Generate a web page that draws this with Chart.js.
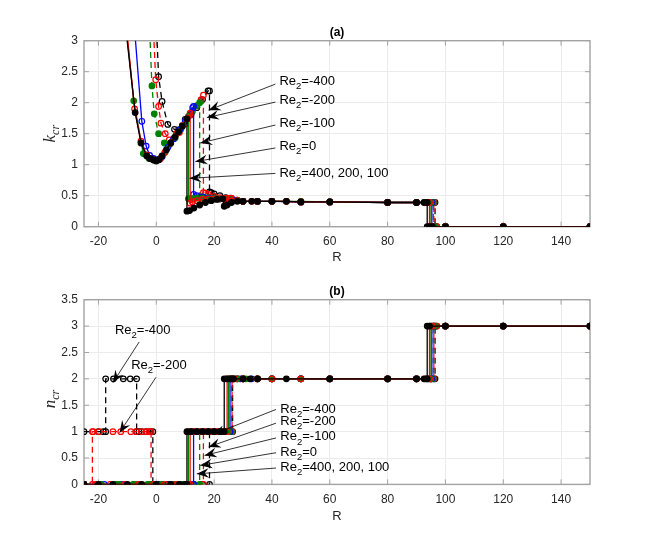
<!DOCTYPE html>
<html>
<head>
<meta charset="utf-8">
<script src="https://cdn.jsdelivr.net/npm/chart.js@4.4.0/dist/chart.umd.min.js"></script>
<style>
  html, body { margin: 0; padding: 0; background: #fff; }
  body { width: 652px; height: 545px; position: relative; overflow: hidden; }
  canvas { position: absolute; left: 0; }
  #chartA { top: 0; }
  #chartB { top: 258.6px; }
</style>
</head>
<body>
<canvas id="chartA" width="652" height="272"></canvas>
<canvas id="chartB" width="652" height="272"></canvas>
<script>
// ---- tick values ----
const xTicks = [-20, 0, 20, 40, 60, 80, 100, 120, 140];
const kTicks = [0, 0.5, 1, 1.5, 2, 2.5, 3];
const nTicks = [0, 0.5, 1, 1.5, 2, 2.5, 3, 3.5];

// ---- (a) k_cr vs R, one pair per Re2 ----
const rK400 = [-10.8, -7.3, -5.3, -3.3, -2.2, -1, 0, 1, 2, 3.5, 5, 6.5, 7.7, 9, 10.6, 10.6, 11.5, 13, 15, 17, 19, 21, 23, 23.5, 24.5, 26, 28, 30, 33, 35, 40, 45, 50, 60, 80, 90, 92.6, 93.7, 93.7, 94.5, 95.5, 100, 120, 150];
const k400  = [3.3, 1.84, 1.35, 1.14, 1.1, 1.08, 1.06, 1.08, 1.14, 1.24, 1.35, 1.45, 1.53, 1.62, 1.74, 0.25, 0.26, 0.3, 0.35, 0.39, 0.42, 0.44, 0.45, 0.33, 0.35, 0.39, 0.41, 0.41, 0.41, 0.41, 0.41, 0.41, 0.4, 0.4, 0.39, 0.39, 0.39, 0.39, 0, 0, 0, 0, 0, 0];

const rK200 = [-10.5, -7.5, -5.3, -3.4, -1.5, 0, 1.5, 3, 5, 7, 9, 10.5, 11.7, 11.7, 12.5, 14, 16, 18, 20, 22, 24, 24.5, 25.6, 28, 30, 33, 35, 40, 45, 50, 60, 80, 90, 93, 94.5, 94.5, 95.5, 100, 120, 150];
const k200  = [3.3, 1.9, 1.38, 1.16, 1.09, 1.07, 1.1, 1.2, 1.35, 1.5, 1.63, 1.74, 1.83, 0.38, 0.4, 0.42, 0.44, 0.45, 0.45, 0.45, 0.45, 0.42, 0.46, 0.42, 0.41, 0.41, 0.41, 0.41, 0.41, 0.4, 0.4, 0.39, 0.39, 0.39, 0.39, 0, 0, 0, 0, 0];

const rK100 = [-10.6, -7.8, -4.5, -2.5, -0.8, 1, 3, 5, 7, 9, 11.1, 11.1, 12, 14, 16, 18, 20, 22, 24, 25, 26, 28, 30, 35, 40, 45, 50, 60, 80, 90, 93, 95, 95, 96, 100, 120, 150];
const k100  = [3.3, 2.03, 1.18, 1.1, 1.07, 1.09, 1.2, 1.35, 1.5, 1.63, 1.78, 0.45, 0.46, 0.46, 0.46, 0.45, 0.45, 0.45, 0.44, 0.4, 0.43, 0.42, 0.41, 0.41, 0.41, 0.41, 0.41, 0.4, 0.39, 0.39, 0.39, 0.39, 0, 0, 0, 0, 0];

const rK0 = [-7.7, -5, -3.5, -2.3, -1, 0.5, 2, 4, 6, 8, 10, 12.6, 12.9, 12.9, 14, 16, 18, 20, 22, 24, 25.5, 27, 30, 35, 40, 50, 60, 80, 90, 95.3, 95.3, 96, 100, 120, 150];
const k0  = [3.3, 1.7, 1.3, 1.15, 1.1, 1.08, 1.13, 1.28, 1.42, 1.56, 1.7, 1.92, 1.94, 0.52, 0.5, 0.48, 0.46, 0.45, 0.45, 0.44, 0.41, 0.43, 0.41, 0.41, 0.41, 0.4, 0.4, 0.39, 0.39, 0.39, 0, 0, 0, 0, 0];

const rKm100 = [-2.4, -1.5, -0.7, 0.8, 2.8, 4.5, 6.5, 8.5, 10.5, 12.5, 14, 15, 15, 16, 18, 20, 22, 24, 26, 28, 30, 35, 40, 50, 60, 80, 90, 95.8, 95.8, 96.5, 100, 120, 150];
const km100  = [3.3, 2.27, 1.82, 1.5, 1.35, 1.32, 1.43, 1.57, 1.72, 1.86, 1.95, 2.0, 0.48, 0.48, 0.47, 0.46, 0.45, 0.45, 0.44, 0.42, 0.41, 0.41, 0.41, 0.4, 0.4, 0.39, 0.39, 0.39, 0, 0, 0, 0, 0];

const rKm200 = [-1.1, -0.2, 0.8, 1.6, 3.1, 4.5, 6, 8, 10, 12, 14, 15.5, 16.3, 16.3, 17, 18, 20, 22, 24, 26, 28, 30, 35, 40, 50, 60, 80, 90, 96, 96, 97, 100, 120, 150];
const km200  = [3.3, 2.37, 1.94, 1.67, 1.5, 1.4, 1.42, 1.52, 1.66, 1.8, 1.95, 2.05, 2.12, 0.55, 0.54, 0.52, 0.49, 0.47, 0.46, 0.46, 0.43, 0.41, 0.41, 0.41, 0.4, 0.4, 0.39, 0.39, 0.39, 0, 0, 0, 0, 0];

const rKm400 = [0, 0.8, 2, 4, 6.3, 7.7, 10, 12, 14, 16, 17.9, 18.4, 18.4, 19, 20, 22, 24, 26, 28, 30, 35, 40, 50, 60, 80, 90, 96.4, 96.4, 97, 100, 120, 150];
const km400  = [3.3, 2.42, 2.02, 1.65, 1.57, 1.56, 1.73, 1.82, 1.92, 2.05, 2.19, 2.19, 0.56, 0.55, 0.53, 0.5, 0.47, 0.45, 0.43, 0.41, 0.41, 0.41, 0.4, 0.4, 0.39, 0.39, 0.39, 0, 0, 0, 0, 0];

// ---- (b) n_cr vs R ----
const rN400 = [-25, -20, -15, -10, -5, 0, 5, 8, 10, 10.6, 10.6, 12, 14, 16, 18, 20, 22, 23.5, 23.5, 24.4, 25.6, 26.7, 30, 32.5, 35, 45, 60, 80, 90, 92.6, 93.7, 93.7, 94.5, 100, 120, 150];
const n400  = [0, 0, 0, 0, 0, 0, 0, 0, 0, 0, 1, 1, 1, 1, 1, 1, 1, 1, 2, 2, 2, 2, 2, 2, 2, 2, 2, 2, 2, 2, 2, 3, 3, 3, 3, 3];

const rN200 = [-25, -21, -16, -11, -6, -1, 3, 7, 10, 11.7, 11.7, 13, 15, 17, 19, 21, 23, 24.5, 24.5, 25.5, 27, 30, 35, 40, 50, 60, 80, 90, 93, 94.5, 94.5, 95.5, 100, 120, 150];
const n200  = [0, 0, 0, 0, 0, 0, 0, 0, 0, 0, 1, 1, 1, 1, 1, 1, 1, 1, 2, 2, 2, 2, 2, 2, 2, 2, 2, 2, 2, 2, 3, 3, 3, 3, 3];

const rN100 = [-25, -19, -13, -7, -2, 2, 6, 9, 11.1, 11.1, 12.5, 14.5, 16.5, 18.5, 20.5, 23, 25, 25, 26, 28, 31, 40, 50, 60, 80, 90, 93.5, 95, 95, 96, 100, 120, 150];
const n100  = [0, 0, 0, 0, 0, 0, 0, 0, 0, 1, 1, 1, 1, 1, 1, 1, 1, 2, 2, 2, 2, 2, 2, 2, 2, 2, 2, 2, 3, 3, 3, 3, 3];

const rN0 = [-25, -18, -12, -6, 0, 5, 9, 12.9, 12.9, 14, 16, 18, 20, 22, 24, 25.5, 25.5, 26.5, 29, 33, 40, 50, 60, 80, 90, 94, 95.3, 95.3, 96, 100, 120, 150];
const n0  = [0, 0, 0, 0, 0, 0, 0, 0, 1, 1, 1, 1, 1, 1, 1, 1, 2, 2, 2, 2, 2, 2, 2, 2, 2, 2, 2, 3, 3, 3, 3, 3];

const rNm100 = [-25, -20, -14, -8, -3, 2, 7, 11, 13, 15, 15, 16.5, 18, 20, 22, 24, 26, 26, 27, 30, 35, 40, 50, 60, 80, 90, 94.5, 95.8, 95.8, 96.5, 100, 120, 150];
const nm100  = [0, 0, 0, 0, 0, 0, 0, 0, 0, 0, 1, 1, 1, 1, 1, 1, 1, 2, 2, 2, 2, 2, 2, 2, 2, 2, 2, 2, 3, 3, 3, 3, 3];

const rNm200 = [-25, -22.1, -22.1, -21.8, -19.8, -15, -12.3, -8.8, -7, -5, -3.5, -2.4, -1.8, -1.8, 2, 6, 10, 13, 16.3, 16.3, 18, 20, 22, 24, 26.2, 26.2, 28, 30, 35, 40, 50, 60, 80, 90, 95, 96, 96, 97, 100, 120, 150];
const nm200  = [0, 0, 1, 1, 1, 1, 1, 1, 1, 1, 1, 1, 1, 0, 0, 0, 0, 0, 0, 1, 1, 1, 1, 1, 1, 2, 2, 2, 2, 2, 2, 2, 2, 2, 2, 2, 3, 3, 3, 3, 3];

const rNm400 = [-25, -20, -18.3, -17.5, -17.5, -14.8, -11.4, -9, -6.8, -6.8, -6, -5, -3.5, -2.2, -1.2, -1.2, 1, 4, 8, 12, 16, 18.4, 18.4, 20, 22, 24, 26.4, 26.4, 28, 30, 35, 40, 50, 60, 80, 90, 95, 96.4, 96.4, 97, 100, 120, 150];
const nm400  = [1, 1, 1, 1, 2, 2, 2, 2, 2, 1, 1, 1, 1, 1, 1, 0, 0, 0, 0, 0, 0, 0, 1, 1, 1, 1, 1, 2, 2, 2, 2, 2, 2, 2, 2, 2, 2, 2, 3, 3, 3, 3, 3];

// ---- annotations (data units): label suffix, text anchor, arrow start, arrow tip ----
const notesA = [
  { t: '=-400',          tx: 42.6, ty: 2.34, sx: 41.2, sy: 2.30, ax: 18.1, ay: 1.88 },
  { t: '=-200',          tx: 42.6, ty: 2.04, sx: 41.2, sy: 2.01, ax: 17.5, ay: 1.76 },
  { t: '=-100',          tx: 42.6, ty: 1.67, sx: 41.2, sy: 1.64, ax: 15.2, ay: 1.35 },
  { t: '=0',             tx: 42.6, ty: 1.29, sx: 41.2, sy: 1.27, ax: 13.5, ay: 1.05 },
  { t: '=400, 200, 100', tx: 42.6, ty: 0.86, sx: 41.2, sy: 0.86, ax: 11.5, ay: 0.78 }
];
const notesB = [
  { t: '=-400',          tx: -14.3, ty: 2.92, sx: -5.9, sy: 2.70, ax: -15.0, ay: 1.93 },
  { t: '=-200',          tx: -8.7,  ty: 2.26, sx: -0.1, sy: 2.03, ax: -12.7, ay: 0.98 },
  { t: '=-400',          tx: 42.9, ty: 1.43, sx: 41.4, sy: 1.42, ax: 19.7, ay: 0.95 },
  { t: '=-200',          tx: 42.9, ty: 1.19, sx: 41.4, sy: 1.16, ax: 18.1, ay: 0.71 },
  { t: '=-100',          tx: 42.9, ty: 0.90, sx: 41.4, sy: 0.88, ax: 16.7, ay: 0.55 },
  { t: '=0',             tx: 42.9, ty: 0.61, sx: 41.4, sy: 0.60, ax: 15.2, ay: 0.36 },
  { t: '=400, 200, 100', tx: 42.9, ty: 0.33, sx: 41.4, sy: 0.31, ax: 14.0, ay: 0.20 }
];

const FONT = '"Liberation Sans", Arial, Helvetica, sans-serif';
const SERIF = '"Liberation Serif", "Times New Roman", serif';
Chart.defaults.font.family = FONT;

function series(r, v, color, dashed, filled) {
  return {
    data: r.map((x, i) => ({ x: x, y: v[i] })),
    showLine: true,
    borderColor: color,
    borderWidth: 1.3,
    borderDash: dashed ? [6, 4] : [],
    pointRadius: 2.8,
    pointBorderWidth: 1.2,
    pointBorderColor: color,
    pointBackgroundColor: filled ? color : 'rgba(0,0,0,0)',
    tension: 0
  };
}

function arrow(ctx, sx, sy, tx, ty) {
  ctx.beginPath();
  ctx.moveTo(sx, sy);
  ctx.lineTo(tx, ty);
  ctx.lineWidth = 0.8;
  ctx.stroke();
  const a = Math.atan2(ty - sy, tx - sx), L = 12, W = 4.8;
  const ux = Math.cos(a), uy = Math.sin(a);
  ctx.beginPath();
  ctx.moveTo(tx, ty);
  ctx.lineTo(tx - L * ux - W * uy, ty - L * uy + W * ux);
  ctx.lineTo(tx - 0.65 * L * ux, ty - 0.65 * L * uy);
  ctx.lineTo(tx - L * ux + W * uy, ty - L * uy - W * ux);
  ctx.closePath();
  ctx.fill();
}

// base text with a lowered subscript, then the rest
function subText(ctx, x, y, base, sub, rest, font, subFont, drop) {
  ctx.font = font;
  ctx.fillText(base, x, y);
  x += ctx.measureText(base).width;
  ctx.font = subFont;
  ctx.fillText(sub, x, y + drop);
  x += ctx.measureText(sub).width;
  if (rest) { ctx.font = font; ctx.fillText(rest, x, y); }
}

const deco = {
  id: 'deco',
  beforeDatasetsDraw(chart) {
    const { ctx, chartArea: a, scales: { x, y } } = chart;
    ctx.save();
    ctx.strokeStyle = '#a3a3a3';
    ctx.lineWidth = 1.4;
    ctx.strokeRect(a.left, a.top, a.right - a.left, a.bottom - a.top);
    ctx.lineWidth = 1;
    ctx.beginPath();
    x.ticks.forEach(t => {
      const p = x.getPixelForValue(t.value);
      ctx.moveTo(p, a.bottom); ctx.lineTo(p, a.bottom - 5);
      ctx.moveTo(p, a.top); ctx.lineTo(p, a.top + 5);
    });
    y.ticks.forEach(t => {
      const p = y.getPixelForValue(t.value);
      ctx.moveTo(a.left, p); ctx.lineTo(a.left + 5, p);
      ctx.moveTo(a.right, p); ctx.lineTo(a.right - 5, p);
    });
    ctx.stroke();
    ctx.restore();
  },
  afterDraw(chart, args, o) {
    const { ctx, chartArea: a, scales: { x, y } } = chart;
    ctx.save();
    ctx.fillStyle = '#000';
    ctx.strokeStyle = '#000';
    // panel title
    ctx.font = 'bold 12px ' + FONT;
    ctx.textAlign = 'center';
    ctx.textBaseline = 'middle';
    ctx.fillText(o.title, (a.left + a.right) / 2, a.top - 8.5);
    // y label with subscript
    ctx.save();
    ctx.translate(50, (a.top + a.bottom) / 2 + o.yShift);
    ctx.rotate(-Math.PI / 2);
    ctx.textAlign = 'left';
    ctx.textBaseline = 'alphabetic';
    ctx.fillStyle = '#262626';
    ctx.font = 'italic 17px ' + SERIF;
    const w1 = ctx.measureText(o.yBase).width;
    ctx.font = 'italic 12px ' + SERIF;
    const w2 = ctx.measureText(o.ySub).width;
    subText(ctx, -(w1 + w2) / 2, 5, o.yBase, o.ySub, '', 'italic 17px ' + SERIF, 'italic 12px ' + SERIF, 3.5);
    ctx.restore();
    // annotations
    ctx.textAlign = 'left';
    ctx.textBaseline = 'middle';
    o.notes.forEach(n => {
      arrow(ctx, x.getPixelForValue(n.sx), y.getPixelForValue(n.sy), x.getPixelForValue(n.ax), y.getPixelForValue(n.ay));
      subText(ctx, x.getPixelForValue(n.tx), y.getPixelForValue(n.ty), 'Re', '2', n.t, '13px ' + FONT, '9.5px ' + FONT, 5);
    });
    ctx.restore();
  }
};

function panel(id, sets, yTicks, yMax, plotH, title, yBase, ySub, yShift, notes) {
  return new Chart(document.getElementById(id), {
    type: 'scatter',
    data: { datasets: sets },
    options: {
      responsive: false,
      animation: false,
      layout: { padding: { top: 40.7, right: 62, left: 0, bottom: 0 } },
      plugins: {
        legend: { display: false },
        tooltip: { enabled: false },
        deco: { title: title, yBase: yBase, ySub: ySub, yShift: yShift, notes: notes }
      },
      scales: {
        x: {
          type: 'linear', min: -25, max: 150,
          afterBuildTicks: s => { s.ticks = xTicks.map(v => ({ value: v })); },
          afterFit: s => { s.height = 272 - 40.7 - plotH; },
          grid: { color: '#ebebeb', drawTicks: false },
          border: { display: false },
          ticks: { padding: 8, color: '#262626', font: { size: 12 }, maxRotation: 0, callback: v => String(v) },
          title: { display: true, text: 'R', color: '#262626', font: { size: 13 }, padding: { top: 0, bottom: 6.8 } }
        },
        y: {
          type: 'linear', min: 0, max: yMax,
          afterBuildTicks: s => { s.ticks = yTicks.map(v => ({ value: v })); },
          afterFit: s => { s.width = 84; },
          grid: { color: '#ebebeb', drawTicks: false },
          border: { display: false },
          ticks: { padding: 6, color: '#262626', font: { size: 12 }, callback: v => String(v) }
        }
      }
    },
    plugins: [deco]
  });
}

panel('chartA', [
  series(rK400, k400, '#000000', false, true),
  series(rK200, k200, '#ff0000', false, false),
  series(rK100, k100, '#008000', false, true),
  series(rK0, k0, '#0000ff', false, false),
  series(rKm100, km100, '#008000', true, true),
  series(rKm200, km200, '#ff0000', true, false),
  series(rKm400, km400, '#000000', true, false)
], kTicks, 3, 186, '(a)', 'k', 'cr', 0, notesA);

panel('chartB', [
  series(rN400, n400, '#000000', false, true),
  series(rN200, n200, '#ff0000', false, false),
  series(rN100, n100, '#008000', false, true),
  series(rN0, n0, '#0000ff', false, false),
  series(rNm100, nm100, '#008000', true, true),
  series(rNm200, nm200, '#ff0000', true, false),
  series(rNm400, nm400, '#000000', true, false)
], nTicks, 3.5, 184.7, '(b)', 'n', 'cr', 7, notesB);
</script>
</body>
</html>
